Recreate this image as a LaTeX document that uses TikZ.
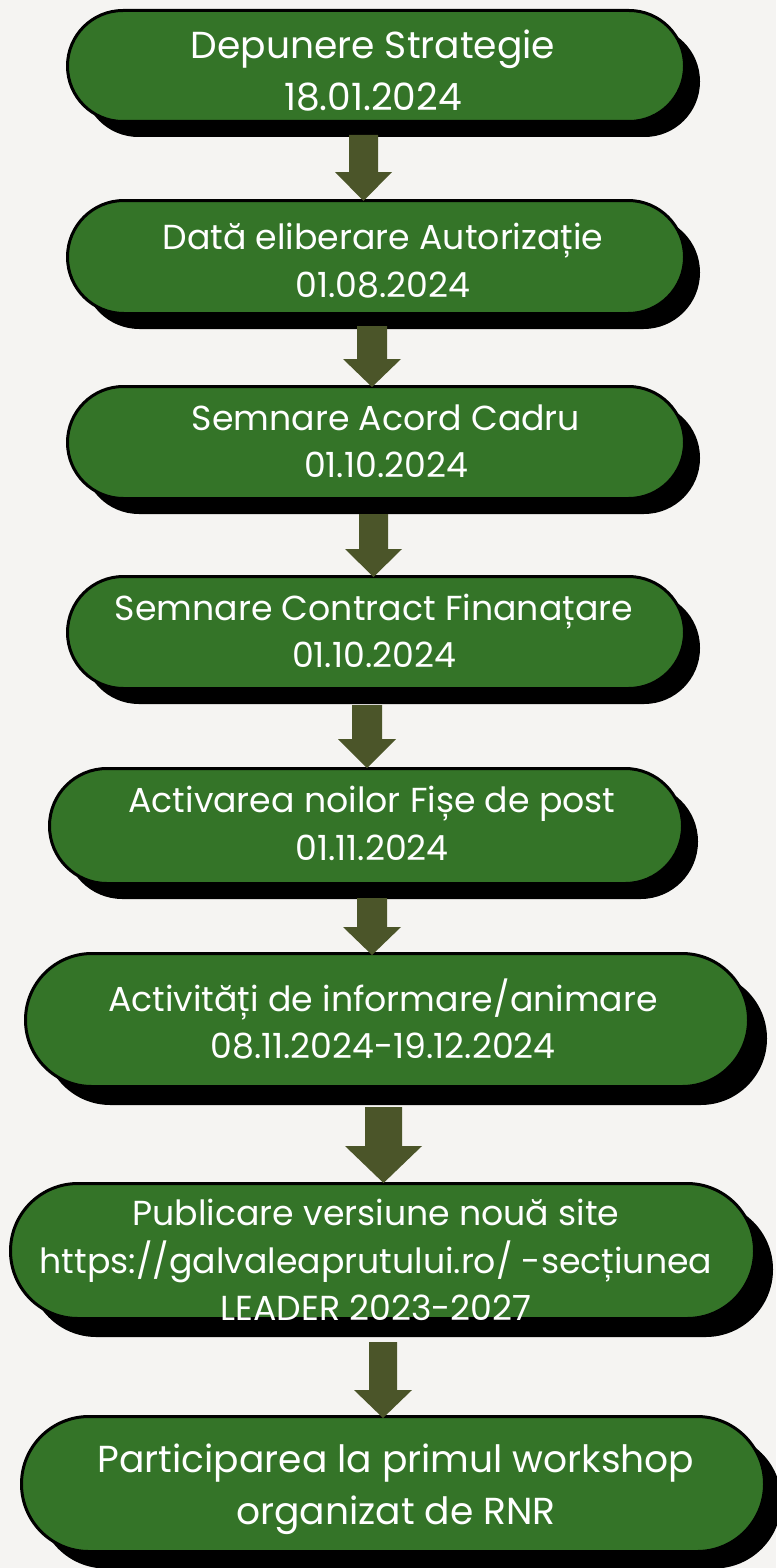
\documentclass[tikz,border=0pt]{standalone}
\usepackage{fontspec}
\setmainfont{Poppins}
\usetikzlibrary{shadows,calc}
\definecolor{bgc}{RGB}{245,244,242}
\definecolor{boxgreen}{RGB}{52,116,40}
\definecolor{arrowc}{RGB}{75,85,41}
\tikzset{
  stadium/.style n args={3}{draw=black, line width=3pt, fill=boxgreen,
    minimum width=#1pt-3pt, minimum height=#2pt-3pt, rounded corners=#2pt/2-1.6pt,
    inner sep=0pt,
    drop shadow={shadow xshift=#3pt, shadow yshift=-#3pt, fill=black, opacity=1}},
  boxtext/.style={text=white, align=center, inner sep=0pt,
    font=\fontsize{34.7}{47.5}\selectfont},
  bigtext/.style={boxtext, font=\fontsize{37.6}{52}\selectfont},
}
% #1 from, #2 to, #3 x, #4 shaft half width, #5 head half width, #6 head length, #7 start gap, #8 end gap
\newcommand\flowarrow[8]{%
  \fill[arrowc] let \p1=(#1.south), \p2=(#2.north) in
    (#3pt-#4pt,\y1-#7pt) -- (#3pt+#4pt,\y1-#7pt) -- (#3pt+#4pt,\y2+#8pt+#6pt)
    -- (#3pt+#5pt,\y2+#8pt+#6pt) -- (#3pt,\y2+#8pt) -- (#3pt-#5pt,\y2+#8pt+#6pt)
    -- (#3pt-#4pt,\y2+#8pt+#6pt) -- cycle;}
\begin{document}
\begin{tikzpicture}[x=1pt,y=1pt]
\fill[bgc] (0,0) rectangle (776,-1568);
\useasboundingbox (0,0) rectangle (776,-1568);

\node[stadium={620}{114}{15.5}] (b1) at (376,-66) {};
\node[bigtext] (t1) at (373,-71) {Depunere Strategie\\18.01.2024};

\node[stadium={620}{116}{15.5}] (b2) at (376,-257) {};
\node[boxtext] (t2) at (383,-260.5) {Dată eliberare Autorizație\\01.08.2024};

\node[stadium={620}{115}{15.5}] (b3) at (376,-442.5) {};
\node[boxtext] (t3) at (386,-441.5) {Semnare Acord Cadru\\01.10.2024};

\node[stadium={620}{115}{15.5}] (b4) at (376,-632.5) {};
\node[boxtext] (t4) at (374,-631) {Semnare Contract Finanațare\\01.10.2024};

\node[stadium={636}{118}{15.5}] (b5) at (366,-826) {};
\node[boxtext] (t5) at (372,-823.5) {Activarea noilor Fișe de post\\01.11.2024};

\node[stadium={726}{136}{18.5}] (b6) at (387,-1020) {};
\node[boxtext] (t6) at (383,-1019) {Activități de informare/animare\\08.11.2024-19.12.2024};

\node[stadium={747}{138}{18.5}] (b7) at (382.5,-1251) {};
\node[boxtext] (t7) at (376,-1260) {Publicare versiune nouă site\\https://galvaleaprutului.ro/ -secțiunea\\LEADER 2023-2027};

\node[stadium={746}{138}{17}] (b8) at (393,-1484) {};
\node[bigtext] (t8) at (396,-1489) {Participarea la primul workshop\\organizat de RNR};

\flowarrow{b1}{b2}{363.5}{14.5}{28.5}{29}{12}{-2}
\flowarrow{b2}{b3}{372}{15}{29}{28}{11}{-2}
\flowarrow{b3}{b4}{373.5}{14.5}{28.5}{28}{14}{-2}
\flowarrow{b4}{b5}{367}{15}{29}{29}{15}{-1}
\flowarrow{b5}{b6}{372}{15}{29}{28}{13}{-3}
\flowarrow{b6}{b7}{383.5}{18.5}{38.5}{37}{19}{-1}
\flowarrow{b7}{b8}{383}{14}{29}{28}{22}{-3}
\end{tikzpicture}
\end{document}
